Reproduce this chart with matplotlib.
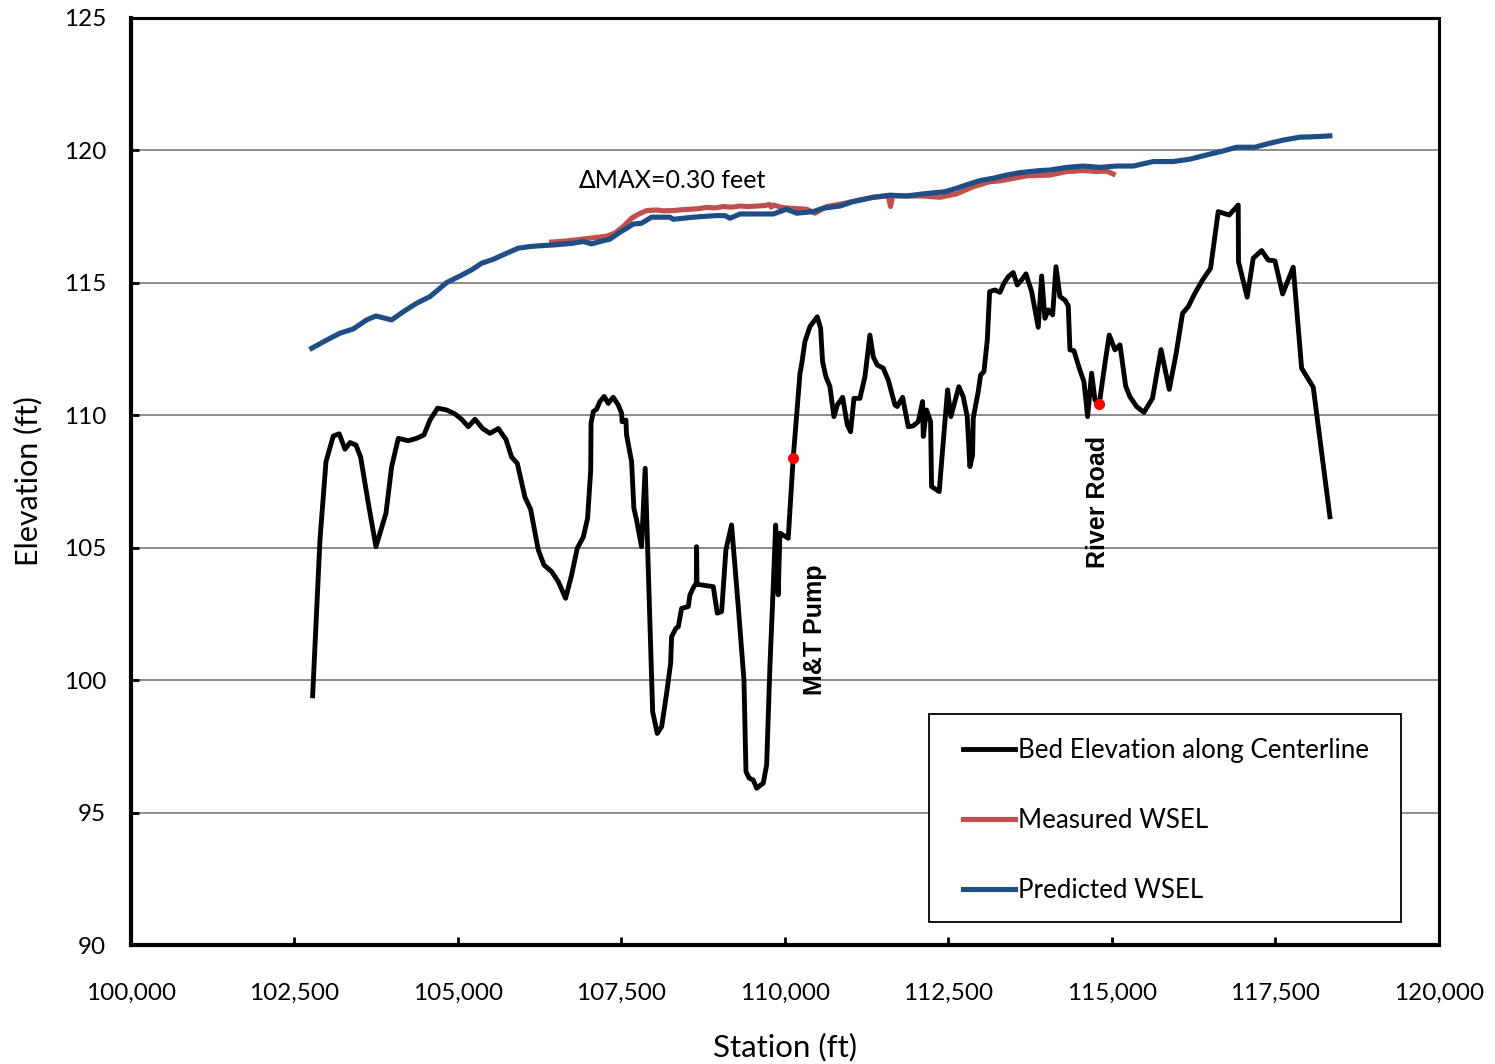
import matplotlib
matplotlib.use("Agg")
import matplotlib.pyplot as plt
from matplotlib.patches import Rectangle
from matplotlib.ticker import FuncFormatter

# ── Data ───────────────────────────────────────────────────────────────────
bed_x = [102778, 102890, 102982, 103094, 103185, 103272, 103349, 103440, 103512, 103629,
         103746, 103899, 103986, 104088, 104241, 104368, 104480, 104572, 104689, 104827,
         104954, 105056, 105158, 105260, 105377, 105489, 105616, 105734, 105821, 105907,
         106024, 106111, 106228, 106315, 106432, 106534, 106646, 106738, 106824, 106916,
         106982, 107030, 107035, 107069, 107120, 107171, 107237, 107298, 107374, 107451,
         107502, 107510, 107568, 107578, 107655, 107690, 107731, 107807, 107863, 107977,
         108047, 108115, 108191, 108252, 108267, 108333, 108369, 108420, 108522, 108547,
         108608, 108645, 108649, 108655, 108904, 108965, 109032, 109097, 109184, 109286,
         109373, 109404, 109454, 109515, 109567, 109633, 109668, 109720, 109770, 109821,
         109858, 109897, 109923, 110050, 110126, 110230, 110254, 110305, 110382, 110494,
         110545, 110575, 110626, 110688, 110749, 110800, 110882, 110953, 111004, 111055,
         111146, 111223, 111299, 111350, 111411, 111503, 111580, 111682, 111717, 111799,
         111885, 111961, 112038, 112105, 112115, 112165, 112227, 112242, 112359, 112410,
         112487, 112537, 112659, 112726, 112787, 112828, 112869, 112879, 112955, 112992,
         113043, 113094, 113130, 113211, 113287, 113348, 113414, 113491, 113552, 113619,
         113685, 113772, 113873, 113925, 113975, 114026, 114093, 114144, 114205, 114281,
         114332, 114358, 114419, 114500, 114572, 114628, 114689, 114740, 114806, 114893,
         114959, 115046, 115123, 115210, 115275, 115377, 115489, 115620, 115750, 115876,
         115978, 116080, 116166, 116269, 116386, 116508, 116625, 116793, 116931, 116935,
         117068, 117160, 117289, 117390, 117492, 117610, 117772, 117900, 118078, 118333]
bed_y = [99.41, 105.30, 108.25, 109.22, 109.30, 108.72, 108.97, 108.88, 108.42, 106.68,
         105.04, 106.30, 108.06, 109.13, 109.04, 109.13, 109.26, 109.82, 110.27, 110.20,
         110.05, 109.85, 109.57, 109.85, 109.50, 109.32, 109.50, 109.09, 108.42, 108.19,
         106.91, 106.45, 104.92, 104.35, 104.10, 103.72, 103.09, 103.97, 104.98, 105.40,
         106.11, 107.94, 109.70, 110.14, 110.23, 110.52, 110.71, 110.45, 110.68, 110.39,
         110.08, 109.76, 109.82, 109.26, 108.25, 106.49, 106.05, 105.04, 108.00, 98.81,
         97.99, 98.25, 99.51, 100.64, 101.64, 101.96, 102.02, 102.71, 102.78, 103.22,
         103.53, 103.66, 105.04, 103.62, 103.53, 102.53, 102.59, 104.92, 105.86, 102.78,
         100.01, 96.55, 96.30, 96.23, 95.92, 96.05, 96.11, 96.80, 100.51, 103.53,
         105.86, 103.22, 105.55, 105.36, 108.38, 111.59, 111.90, 112.78, 113.35, 113.72,
         113.29, 112.03, 111.46, 111.08, 109.95, 110.39, 110.68, 109.64, 109.38, 110.64,
         110.64, 111.46, 113.03, 112.21, 111.90, 111.78, 111.33, 110.39, 110.33, 110.68,
         109.57, 109.60, 109.76, 110.52, 109.20, 110.20, 109.76, 107.31, 107.12, 108.69,
         110.96, 109.95, 111.08, 110.70, 109.95, 108.06, 108.50, 109.89, 110.89, 111.52,
         111.65, 112.84, 114.67, 114.73, 114.64, 114.98, 115.23, 115.39, 114.92, 115.11,
         115.34, 114.67, 113.32, 115.26, 113.66, 113.98, 113.79, 115.61, 114.48, 114.35,
         114.13, 112.47, 112.44, 111.78, 111.27, 109.95, 111.59, 110.58, 110.43, 111.96,
         113.03, 112.47, 112.66, 111.10, 110.70, 110.33, 110.11, 110.64, 112.48, 110.98,
         112.28, 113.85, 114.10, 114.61, 115.11, 115.55, 117.69, 117.56, 117.94, 115.80,
         114.46, 115.93, 116.22, 115.86, 115.83, 114.58, 115.59, 111.78, 111.06, 106.17]

meas_x = [106432, 106650, 106865, 107069, 107273, 107400, 107530, 107655, 107750, 107884,
          108037, 108150, 108292, 108420, 108547, 108680, 108802, 108930, 109057, 109180,
          109312, 109440, 109567, 109700, 109760, 109790, 109821, 109950, 110076, 110200,
          110331, 110458, 110637, 110841, 111095, 111350, 111579, 111615, 111646, 111860,
          112115, 112370, 112624, 112879, 113135, 113287, 113440, 113695, 114052, 114307,
          114561, 114765, 114918, 115020]
meas_y = [116.54, 116.58, 116.64, 116.70, 116.76, 116.88, 117.13, 117.44, 117.58, 117.73,
          117.75, 117.72, 117.73, 117.76, 117.78, 117.80, 117.85, 117.83, 117.88, 117.86,
          117.90, 117.88, 117.90, 117.92, 117.96, 117.86, 117.94, 117.85, 117.82, 117.80,
          117.78, 117.63, 117.88, 117.97, 118.10, 118.23, 118.28, 117.88, 118.28, 118.28,
          118.28, 118.23, 118.36, 118.63, 118.82, 118.85, 118.92, 119.04, 119.07, 119.20,
          119.24, 119.20, 119.22, 119.11]

pred_x = [102763, 102992, 103196, 103399, 103603, 103746, 103986, 104164, 104368, 104572,
          104827, 105031, 105209, 105362, 105540, 105719, 105922, 106101, 106254, 106457,
          106738, 106916, 107044, 107171, 107324, 107451, 107578, 107680, 107807, 107960,
          108241, 108291, 108598, 108955, 109082, 109159, 109312, 109821, 110025, 110178,
          110433, 110586, 110841, 111044, 111350, 111605, 111860, 112115, 112446, 112573,
          112777, 112981, 113185, 113389, 113593, 113899, 114052, 114307, 114561, 114816,
          115071, 115326, 115632, 115938, 116193, 116448, 116702, 116906, 117185, 117364,
          117619, 117874, 118129, 118332]
pred_y = [112.53, 112.84, 113.10, 113.26, 113.60, 113.75, 113.60, 113.91, 114.23, 114.48,
          115.01, 115.26, 115.49, 115.74, 115.89, 116.09, 116.31, 116.37, 116.40, 116.43,
          116.49, 116.56, 116.47, 116.56, 116.65, 116.87, 117.06, 117.22, 117.25, 117.48,
          117.48, 117.40, 117.48, 117.54, 117.54, 117.44, 117.60, 117.60, 117.78, 117.63,
          117.69, 117.82, 117.90, 118.07, 118.23, 118.31, 118.28, 118.36, 118.44, 118.53,
          118.70, 118.86, 118.95, 119.07, 119.16, 119.24, 119.26, 119.36, 119.41, 119.36,
          119.41, 119.41, 119.58, 119.58, 119.67, 119.83, 119.98, 120.12, 120.12, 120.24,
          120.39, 120.50, 120.52, 120.55]

site_x = [110126, 114806]
site_y = [108.38, 110.43]
site_names = ["M&T Pump", "River Road"]
site_label_xy = [(110458, 101.9), (114785, 106.73)]

# ── Plot ───────────────────────────────────────────────────────────────────
plt.rcParams["font.family"] = ["Lato", "DejaVu Sans"]

fig = plt.figure(figsize=(14.95, 10.64), dpi=100)
ax = fig.add_axes([0.0876, 0.1118, 0.8749, 0.8713])

ax.plot(bed_x, bed_y, color="black", lw=3.5, label="Bed Elevation along Centerline", zorder=3)
ax.plot(meas_x, meas_y, color="#C0504D", lw=3.7, label="Measured WSEL", zorder=3)
ax.plot(pred_x, pred_y, color="#1F4E87", lw=3.7, label="Predicted WSEL", zorder=4)
ax.plot(site_x, site_y, "o", color="red", ms=7, zorder=5)

for name, (lx, ly) in zip(site_names, site_label_xy):
    ax.text(lx, ly, name, rotation=90, ha="center", va="center",
            fontsize=18, fontweight="bold", family="Liberation Sans")

ax.text(106835, 118.85, "\u2206MAX=0.30 feet", ha="left", va="center", fontsize=18)

ax.set_xlim(100000, 120000)
ax.set_ylim(90, 125)
ax.set_xticks(range(100000, 120001, 2500))
ax.set_yticks(range(90, 126, 5))
ax.xaxis.set_major_formatter(FuncFormatter(lambda v, p: f"{int(v):,}"))
ax.tick_params(direction="in", length=6, width=2, labelsize=17.5)
ax.tick_params(axis="x", pad=27)
ax.tick_params(axis="y", pad=18)
ax.grid(True, axis="y", color="#8c8c8c", lw=1.4)
ax.set_axisbelow(True)
for side in ["left", "bottom"]:
    ax.spines[side].set_linewidth(3)
for side in ["top", "right"]:
    ax.spines[side].set_linewidth(2.2)

ax.set_xlabel("Station (ft)", fontsize=22.5, labelpad=21)
ax.set_ylabel("Elevation (ft)", fontsize=22, labelpad=15)

# legend frame drawn separately so the inner padding can differ by direction
ax.add_patch(Rectangle((0.610, 0.0248), 0.361, 0.2242, transform=ax.transAxes,
                       facecolor="white", edgecolor="black", lw=1.3, zorder=6))
leg = ax.legend(loc="upper left", bbox_to_anchor=(0.636, 0.2233), frameon=False,
                fontsize=18.6, handlelength=2.0, handletextpad=0.12, labelspacing=1.75,
                borderpad=0, borderaxespad=0)
leg.set_zorder(7)

fig.savefig("out.png", dpi=100)
